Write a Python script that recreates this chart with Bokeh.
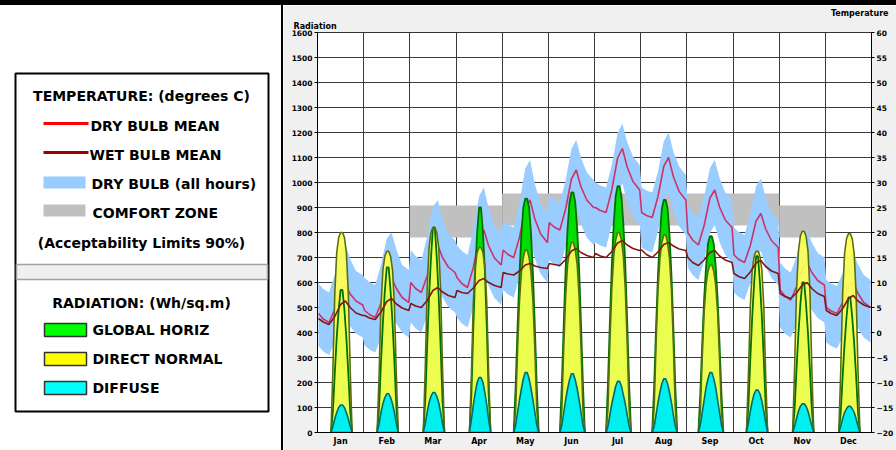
from bokeh.plotting import figure
from bokeh.layouts import row, column
from bokeh.models import Range1d, LinearAxis, FixedTicker, Title, Div
from bokeh.embed import file_html
from bokeh.resources import INLINE
from bokeh.core.properties import value

MONTHS = ["Jan", "Feb", "Mar", "Apr", "May", "Jun", "Jul", "Aug", "Sep", "Oct", "Nov", "Dec"]
HOURS_T = [0.5, 3, 6, 9, 12, 14.5, 17, 20, 23.5]

DRY_BULB_MEAN = [
    [3.8, 2.7, 2.0, 4.6, 8.4, 9.5, 7.7, 6.3, 5.5],
    [4.4, 3.6, 3.0, 5.8, 9.8, 11.0, 8.8, 7.0, 6.0],
    [10.0, 8.8, 8.0, 11.3, 16.1, 17.5, 15.0, 13.1, 12.0],
    [11.0, 9.8, 9.0, 13.0, 18.8, 20.5, 17.3, 14.9, 13.5],
    [16.5, 15.6, 15.0, 19.0, 24.8, 26.5, 22.7, 19.7, 18.0],
    [22.0, 21.1, 20.5, 24.7, 30.7, 32.5, 29.1, 26.5, 25.0],
    [25.0, 24.4, 24.0, 28.5, 34.9, 36.8, 33.1, 30.2, 28.5],
    [24.0, 23.4, 23.0, 27.2, 33.2, 35.0, 31.2, 28.2, 26.5],
    [20.0, 18.5, 17.5, 21.4, 26.9, 28.5, 25.1, 22.5, 21.0],
    [15.5, 14.6, 14.0, 17.4, 22.3, 23.8, 20.7, 18.4, 17.0],
    [8.5, 7.3, 6.5, 9.1, 12.9, 14.0, 12.0, 10.4, 9.5],
    [5.0, 4.3, 3.8, 6.0, 9.1, 10.0, 7.8, 6.0, 5.0],
]
WET_BULB_MEAN = [
    [2.8, 2.1, 1.6, 3.2, 5.6, 6.3, 5.0, 3.9, 3.4],
    [3.4, 2.9, 2.6, 4.1, 6.2, 6.8, 5.7, 4.9, 4.4],
    [5.8, 5.3, 5.0, 6.4, 8.4, 9.0, 8.1, 7.4, 7.0],
    [8.4, 8.0, 7.8, 8.9, 10.4, 10.8, 10.0, 9.4, 9.0],
    [12.0, 11.7, 11.5, 12.3, 13.5, 13.8, 13.3, 13.0, 12.8],
    [13.8, 13.6, 13.4, 14.6, 16.3, 16.8, 16.0, 15.4, 15.0],
    [15.8, 15.3, 15.0, 16.2, 17.9, 18.4, 17.5, 16.8, 16.4],
    [16.5, 15.6, 15.0, 16.1, 17.6, 18.0, 17.3, 16.7, 16.4],
    [15.0, 14.0, 13.4, 14.5, 16.0, 16.4, 15.3, 14.5, 14.0],
    [11.8, 11.2, 10.8, 12.1, 13.9, 14.4, 13.2, 12.3, 11.8],
    [7.8, 7.2, 6.8, 7.9, 9.5, 10.0, 8.8, 7.8, 7.2],
    [4.4, 3.8, 3.4, 4.8, 6.8, 7.4, 6.3, 5.5, 5.0],
]
DRY_BULB_MAX = [
    [9.8, 8.7, 8.0, 11.6, 16.4, 17.5, 14.7, 12.3, 11.5],
    [10.9, 10.1, 9.5, 13.6, 18.8, 20.0, 16.6, 13.5, 12.5],
    [16.5, 15.3, 14.5, 19.1, 25.1, 26.5, 22.8, 19.6, 18.5],
    [17.5, 16.3, 15.5, 20.5, 27.3, 29.0, 24.8, 21.4, 20.0],
    [22.5, 21.6, 21.0, 26.0, 32.8, 34.5, 29.7, 25.7, 24.0],
    [27.5, 26.6, 26.0, 30.5, 36.7, 38.5, 34.9, 32.0, 30.5],
    [30.0, 29.4, 29.0, 33.5, 39.9, 41.8, 38.1, 35.2, 33.5],
    [29.0, 28.4, 28.0, 32.2, 38.2, 40.0, 36.2, 33.2, 31.5],
    [25.5, 24.0, 23.0, 27.2, 32.9, 34.5, 30.9, 28.0, 26.5],
    [21.0, 20.1, 19.5, 23.7, 29.3, 30.8, 27.0, 23.9, 22.5],
    [14.0, 12.8, 12.0, 15.1, 19.4, 20.5, 18.0, 15.9, 15.0],
    [10.5, 9.8, 9.3, 11.8, 15.1, 16.0, 13.6, 11.5, 10.5],
]
DRY_BULB_MIN = [
    [-2.7, -3.8, -4.5, -1.9, 1.9, 3.0, 1.2, -0.2, -1.0],
    [-2.6, -3.4, -4.0, -1.2, 2.8, 4.0, 1.8, 0.0, -1.0],
    [2.0, 0.8, 0.0, 3.3, 8.1, 9.5, 7.0, 5.1, 4.0],
    [3.0, 1.8, 1.0, 5.0, 10.8, 12.5, 9.3, 6.9, 5.5],
    [8.5, 7.6, 7.0, 11.0, 16.8, 18.5, 14.7, 11.7, 10.0],
    [14.5, 13.6, 13.0, 17.2, 23.2, 25.0, 21.6, 19.0, 17.5],
    [18.0, 17.4, 17.0, 21.5, 27.9, 29.8, 26.1, 23.2, 21.5],
    [17.0, 16.4, 16.0, 20.2, 26.2, 28.0, 24.2, 21.2, 19.5],
    [13.0, 11.5, 10.5, 14.4, 19.9, 21.5, 18.1, 15.5, 14.0],
    [8.0, 7.1, 6.5, 9.9, 14.8, 16.3, 13.2, 10.9, 9.5],
    [1.0, -0.2, -1.0, 1.6, 5.4, 6.5, 4.5, 2.9, 2.0],
    [-2.0, -2.7, -3.2, -1.0, 2.1, 3.0, 0.8, -1.0, -2.0],
]

COMFORT_FIRST_MONTH = [2, 4, 10]
COMFORT_LAST_MONTH = [3, 9, 10]
COMFORT_LOW = [19.0, 21.4, 19.0]
COMFORT_HIGH = [25.4, 27.8, 25.4]

DAY_FIRST_HOUR = [8, 8, 8, 8, 7, 7, 7, 7, 7, 8, 8, 8]
GLOBAL_HORIZ = [
    [85, 240, 380, 490, 570, 570, 490, 380, 240, 85],
    [100, 280, 440, 565, 660, 660, 565, 440, 280, 100],
    [125, 345, 545, 700, 820, 820, 700, 545, 345, 125],
    [150, 420, 650, 800, 900, 900, 800, 650, 420, 150],
    [185, 420, 635, 795, 900, 935, 935, 900, 795, 635, 420, 185],
    [190, 430, 655, 815, 920, 960, 960, 920, 815, 655, 430, 190],
    [195, 445, 670, 835, 945, 985, 985, 945, 835, 670, 445, 195],
    [185, 420, 630, 790, 895, 930, 930, 895, 790, 630, 420, 185],
    [155, 355, 535, 665, 755, 785, 785, 755, 665, 535, 355, 155],
    [105, 295, 465, 600, 705, 705, 600, 465, 295, 105],
    [90, 250, 395, 510, 600, 600, 510, 395, 250, 90],
    [80, 225, 355, 460, 540, 540, 460, 355, 225, 80],
]
DIRECT_NORMAL = [
    [250, 560, 720, 780, 800, 800, 780, 720, 560, 250],
    [225, 505, 650, 705, 725, 725, 705, 650, 505, 225],
    [255, 575, 740, 800, 820, 820, 800, 740, 575, 255],
    [230, 520, 665, 720, 740, 740, 720, 665, 520, 230],
    [90, 330, 525, 640, 700, 730, 730, 700, 640, 525, 330, 90],
    [90, 340, 545, 670, 730, 760, 760, 730, 670, 545, 340, 90],
    [95, 360, 575, 705, 770, 800, 800, 770, 705, 575, 360, 95],
    [95, 355, 570, 695, 760, 790, 790, 760, 695, 570, 355, 95],
    [80, 300, 480, 590, 645, 670, 670, 645, 590, 480, 300, 80],
    [225, 505, 650, 705, 725, 725, 705, 650, 505, 225],
    [250, 565, 725, 785, 805, 805, 785, 725, 565, 250],
    [245, 555, 715, 775, 795, 795, 775, 715, 555, 245],
]
DIFFUSE = [
    [25, 55, 80, 100, 110, 110, 100, 80, 55, 25],
    [35, 80, 115, 140, 155, 155, 140, 115, 80, 35],
    [35, 80, 120, 145, 160, 160, 145, 120, 80, 35],
    [50, 110, 160, 200, 220, 220, 200, 160, 110, 50],
    [30, 80, 130, 175, 215, 240, 240, 215, 175, 130, 80, 30],
    [30, 80, 130, 175, 210, 235, 235, 210, 175, 130, 80, 30],
    [25, 70, 115, 150, 185, 205, 205, 185, 150, 115, 70, 25],
    [25, 70, 120, 160, 195, 215, 215, 195, 160, 120, 70, 25],
    [30, 80, 130, 180, 215, 240, 240, 215, 180, 130, 80, 30],
    [40, 85, 125, 155, 170, 170, 155, 125, 85, 40],
    [25, 55, 85, 105, 115, 115, 105, 85, 55, 25],
    [25, 55, 80, 95, 105, 105, 95, 80, 55, 25],
]

RAD_TICKS = list(range(0, 1601, 100))
TEMP_TICKS = list(range(-20, 61, 5))
HOURS_PER_MONTH = 24

FONT = value("DejaVu Sans")
BORDER_TOP, BORDER_BOTTOM = 27, 18

# ---------------- chart ----------------
p = figure(width=613, height=445, x_range=Range1d(0, 12 * HOURS_PER_MONTH),
           y_range=Range1d(0, 1600), toolbar_location=None, output_backend="svg",
           min_border_left=34, min_border_right=19,
           min_border_top=BORDER_TOP, min_border_bottom=BORDER_BOTTOM)
p.extra_y_ranges = {"temp": Range1d(-20, 60)}
p.border_fill_color = "#f0f0f0"
p.background_fill_color = "white"
p.outline_line_color = "#333333"

tx, dry, wet, hi, lo = [], [], [], [], []
for m in range(12):
    for j, h in enumerate(HOURS_T):
        tx.append(m * HOURS_PER_MONTH + h)
        dry.append(DRY_BULB_MEAN[m][j])
        wet.append(WET_BULB_MEAN[m][j])
        hi.append(DRY_BULB_MAX[m][j])
        lo.append(DRY_BULB_MIN[m][j])

p.quad(left=[f * HOURS_PER_MONTH for f in COMFORT_FIRST_MONTH],
       right=[(l + 1) * HOURS_PER_MONTH for l in COMFORT_LAST_MONTH],
       bottom=COMFORT_LOW, top=COMFORT_HIGH, y_range_name="temp",
       fill_color="#c0c0c0", line_color=None)
p.varea(x=tx, y1=lo, y2=hi, y_range_name="temp", fill_color="#99ccff")
p.line(tx, dry, y_range_name="temp", line_color="#cc3366", line_width=1.6)


def polys(series):
    xs, ys = [], []
    for m, vals in enumerate(series):
        f = DAY_FIRST_HOUR[m]
        base = m * HOURS_PER_MONTH
        xs.append([base + f - 1] + [base + f + i for i in range(len(vals))] + [base + f + len(vals)])
        ys.append([0] + list(vals) + [0])
    return xs, ys


gx, gy = polys(GLOBAL_HORIZ)
dx, dy = polys(DIRECT_NORMAL)
fx, fy = polys(DIFFUSE)
p.patches(gx, gy, fill_color="#00dd00", line_color=None)
p.patches(dx, dy, fill_color="#ffff55", fill_alpha=0.92, line_color=None)
p.patches(gx, gy, fill_color=None, line_color="#007000", line_width=1.8)
p.patches(dx, dy, fill_color=None, line_color="#5a6e10", line_width=1.6)
p.patches(fx, fy, fill_color="#00f0f0", line_color="#006a6a", line_width=1.6)
p.line(tx, wet, y_range_name="temp", line_color="#801818", line_width=1.6)

p.yaxis.ticker = FixedTicker(ticks=RAD_TICKS)
p.ygrid.ticker = FixedTicker(ticks=RAD_TICKS)
p.xaxis.ticker = FixedTicker(ticks=[m * HOURS_PER_MONTH + 12 for m in range(12)])
p.xaxis.major_label_overrides = {m * HOURS_PER_MONTH + 12: MONTHS[m] for m in range(12)}
p.xgrid.ticker = FixedTicker(ticks=[m * HOURS_PER_MONTH for m in range(13)])
for g in (p.xgrid, p.ygrid):
    g.grid_line_color = "#3a3a3a"
    g.grid_line_width = 1

ra = LinearAxis(y_range_name="temp", ticker=FixedTicker(ticks=TEMP_TICKS))
p.add_layout(ra, "right")

for ax in (p.xaxis[0], p.yaxis[0], ra):
    ax.major_label_text_font = "DejaVu Sans"
    ax.major_label_text_font_style = "bold"
    ax.major_label_text_font_size = "7.5px"
    ax.major_label_text_color = "black"
    ax.axis_line_color = "black"
    ax.major_tick_line_color = "black"
    ax.minor_tick_line_color = None
    ax.major_tick_in = 0
    ax.major_tick_out = 3
    ax.major_label_standoff = 2
p.xaxis.major_tick_out = 0
p.xaxis.major_label_standoff = 4
p.xaxis.major_label_text_font_size = "8px"

t_rad = Title(text="Radiation", align="left", offset=-24, standoff=4,
              text_font="DejaVu Sans", text_font_style="bold", text_font_size="8px",
              text_color="black")
t_temp = Title(text="Temperature", align="right", offset=-17, standoff=0,
               text_font="DejaVu Sans", text_font_style="bold", text_font_size="8px",
               text_color="black")
p.add_layout(t_rad, "above")
p.add_layout(t_temp, "above")

# ---------------- legend panel ----------------
lg = figure(width=281, height=445, x_range=Range1d(0, 281), y_range=Range1d(432, 32),
            toolbar_location=None, output_backend="svg",
            min_border_left=0, min_border_right=0,
            min_border_top=BORDER_TOP, min_border_bottom=BORDER_BOTTOM,
            x_axis_location=None, y_axis_location=None)
lg.grid.visible = False
lg.outline_line_color = None
lg.background_fill_color = "white"
lg.border_fill_color = "white"

lg.quad(left=[15], right=[268], top=[73], bottom=[411], fill_color="white",
        line_color="black", line_width=2)
lg.quad(left=[16], right=[267], top=[264], bottom=[279], fill_color="#f0f0f0",
        line_color="#a0a0a0", line_width=1.5)

lg.segment(x0=[43], y0=[123], x1=[88], y1=[123], line_color="#ff0000", line_width=3)
lg.segment(x0=[43], y0=[152], x1=[88], y1=[152], line_color="#a00000", line_width=3)
lg.quad(left=[43, 43], right=[85, 85], top=[176, 204], bottom=[188, 216],
        fill_color=["#99ccff", "#c0c0c0"], line_color=None)
lg.quad(left=[44, 44, 44], right=[86, 86, 86], top=[323, 352, 381], bottom=[336, 365, 394],
        fill_color=["#00ff00", "#ffff00", "#00ffff"], line_color="#333333", line_width=1.5)

lg.text(x=[141, 141, 141], y=[95, 242, 302],
        text=["TEMPERATURE: (degrees C)", "(Acceptability Limits 90%)", "RADIATION: (Wh/sq.m)"],
        text_font=FONT, text_font_style="bold", text_font_size="14px",
        text_align="center", text_baseline="middle", text_color="black")
lg.text(x=[90, 89, 91, 92, 92, 92, 92], y=[125, 154, 183, 212, 329, 358, 387],
        text=["DRY BULB MEAN", "WET BULB MEAN", "DRY BULB (all hours)", "COMFORT ZONE",
              "GLOBAL HORIZ", "DIRECT NORMAL", "DIFFUSE"],
        text_font=FONT, text_font_style="bold", text_font_size="14px",
        text_align="left", text_baseline="middle", text_color="black")

top_bar = Div(text="", width=896, height=5, margin=0, styles={"background-color": "black"})
side_bar = Div(text="", width=2, height=445, margin=0, styles={"background-color": "black"})

layout = column(top_bar, row(lg, side_bar, p, spacing=0), spacing=0)
open("out.html", "w").write(file_html(layout, INLINE))
